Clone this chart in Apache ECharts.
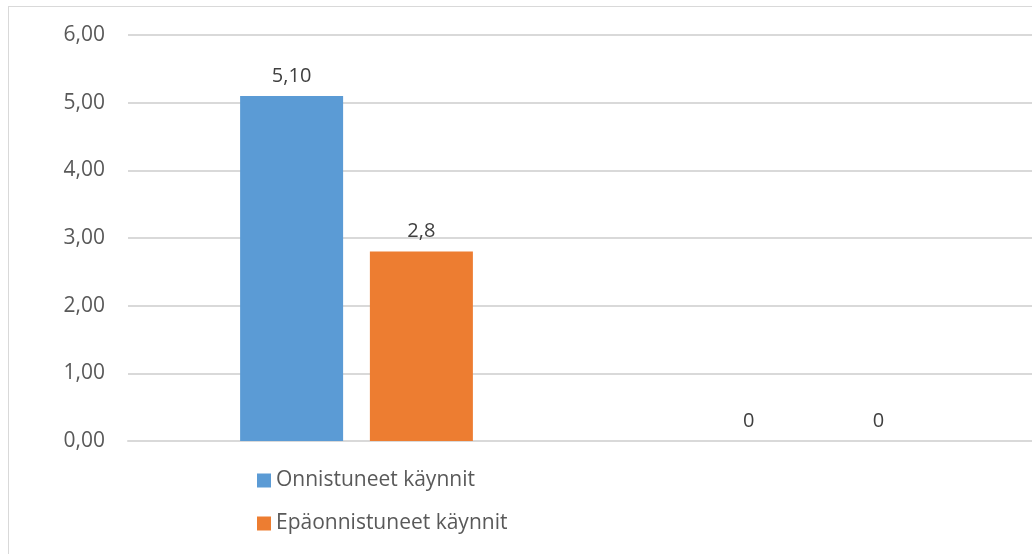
<!DOCTYPE html>
<html lang="fi">
<head>
    <meta charset="UTF-8">
    <title>Käynnit</title>
    <script src="https://cdn.jsdelivr.net/npm/echarts@6/dist/echarts.min.js"></script>
    <style>
        html, body { margin: 0; padding: 0; overflow: hidden; background: #fff; }
        #frame { position: absolute; left: 8px; top: 6px; width: 1100px; height: 600px; border: 1px solid #d9d9d9; }
        #main { position: absolute; left: 0; top: 0; width: 1050px; height: 554px; }
    </style>
</head>
<body>
    <div id="frame"></div>
    <div id="main"></div>
    <script>
        var categories = ['A', 'B'];
        var seriesNames = ['Onnistuneet käynnit', 'Epäonnistuneet käynnit'];
        var onnistuneet = [5.10, 0];
        var epaonnistuneet = [2.8, 0];
        var labelTexts = [['5,10', '0'], ['2,8', '0']];
        var yTicks = [0, 1, 2, 3, 4, 5, 6];

        var font = '"Open Sans", "Liberation Sans", sans-serif';
        var chart = echarts.init(document.getElementById('main'));

        function makeSeries(name, values, color, idx) {
            return {
                name: name,
                type: 'bar',
                data: values,
                barWidth: 103,
                barGap: '26%',
                itemStyle: { color: color },
                label: {
                    show: true,
                    position: 'top',
                    distance: 10,
                    color: '#404040',
                    fontFamily: font,
                    fontSize: 20,
                    formatter: function (p) { return labelTexts[idx][p.dataIndex]; }
                }
            };
        }

        var option = {
            animation: false,
            textStyle: { fontFamily: font },
            grid: { left: 128, right: 8, top: 35, bottom: 113, containLabel: false },
            legend: {
                orient: 'vertical',
                left: 252,
                top: 465,
                itemWidth: 14,
                itemHeight: 14,
                itemGap: 22,
                itemStyle: { borderWidth: 0 },
                icon: 'rect',
                textStyle: { color: '#595959', fontSize: 21, fontFamily: font },
                data: seriesNames
            },
            xAxis: {
                type: 'category',
                data: categories,
                axisLine: { lineStyle: { color: '#d9d9d9', width: 2 } },
                axisTick: { show: false },
                axisLabel: { show: false }
            },
            yAxis: {
                type: 'value',
                min: yTicks[0],
                max: yTicks[yTicks.length - 1],
                interval: 1,
                axisLine: { show: false },
                axisTick: { show: false },
                splitLine: { lineStyle: { color: '#d9d9d9', width: 2 } },
                axisLabel: {
                    color: '#595959',
                    fontSize: 21,
                    margin: 23,
                    fontFamily: font,
                    formatter: function (v) { return v.toFixed(2).replace('.', ','); }
                }
            },
            series: [
                makeSeries(seriesNames[0], onnistuneet, '#5b9bd5', 0),
                makeSeries(seriesNames[1], epaonnistuneet, '#ed7d31', 1)
            ]
        };
        chart.setOption(option);
    </script>
</body>
</html>
